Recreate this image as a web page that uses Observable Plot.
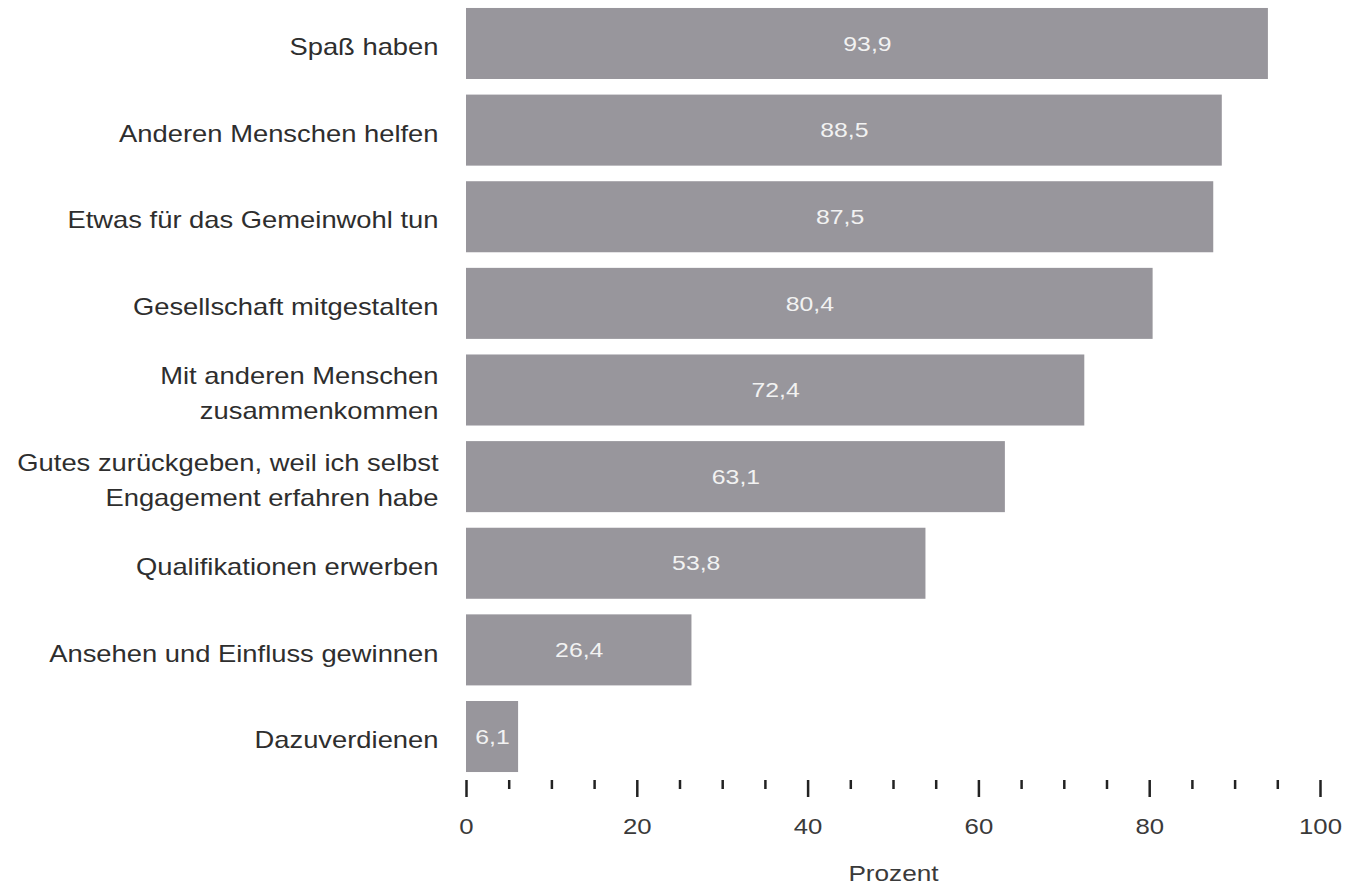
<!DOCTYPE html>
<html>
<head>
<meta charset="utf-8">
<script src="https://cdn.jsdelivr.net/npm/d3@7"></script>
<script src="https://cdn.jsdelivr.net/npm/@observablehq/plot@0.6"></script>
<style>
  html, body { margin: 0; padding: 0; background: #fff; }
  svg { display: block; }
  svg, svg text { font-family: "Liberation Sans", Arial, sans-serif !important; }
</style>
</head>
<body>
<div id="chart"></div>
<script>
const categories = [
  "Spaß haben",
  "Anderen Menschen helfen",
  "Etwas für das Gemeinwohl tun",
  "Gesellschaft mitgestalten",
  "Mit anderen Menschen\nzusammenkommen",
  "Gutes zurückgeben, weil ich selbst\nEngagement erfahren habe",
  "Qualifikationen erwerben",
  "Ansehen und Einfluss gewinnen",
  "Dazuverdienen"
];
const values = [93.9, 88.5, 87.5, 80.4, 72.4, 63.1, 53.8, 26.4, 6.1];
const majorTicks = [0, 20, 40, 60, 80, 100];
const minorTicks = [5, 10, 15, 25, 30, 35, 45, 50, 55, 65, 70, 75, 85, 90, 95];
const xLabel = "Prozent";

const data = categories.map((c, i) => ({category: c, value: values[i]}));
const fmt = v => v.toFixed(1).replace(".", ",");

const chart = Plot.plot({
  width: 1348,
  height: 890,
  marginLeft: 466,
  marginRight: 28,
  marginTop: 0,
  marginBottom: 110,
  style: {background: "#fff"},
  x: {domain: [0, 100]},
  y: {domain: categories, paddingInner: 0.18, paddingOuter: 0.092, round: false},
  marks: [
    Plot.barX(data, {x: "value", y: "category", fill: "#98969c"}),
    Plot.text(data, {x: d => d.value / 2, y: "category", text: d => fmt(d.value), fill: "#f2f2f2", fontSize: 21}),
    Plot.axisY({tickSize: 0, tickPadding: 28, fontSize: 23, lineHeight: 1.52, fill: "#2e2e2e", label: null}),
    Plot.axisX({ticks: majorTicks, tickSize: 17, tickPadding: 21, strokeWidth: 2.5, stroke: "#222", fontSize: 22, fill: "#3a3a3a", tickFormat: d => String(d), label: xLabel, labelAnchor: "center", labelArrow: "none", labelOffset: 100}),
    Plot.axisX({ticks: minorTicks, tickSize: 9, strokeWidth: 2.5, stroke: "#222", tickFormat: () => "", label: null})
  ]
});

// the reference's lettering is horizontally wider than Arial: stretch glyphs around their anchor
function stretch(selector, s) {
  chart.querySelectorAll(selector).forEach(t => {
    const tr = t.getAttribute("transform");
    if (tr) {
      t.setAttribute("transform", tr + ` scale(${s},1)`);
    } else {
      const x = +(t.getAttribute("x") || 0), y = +(t.getAttribute("y") || 0);
      t.setAttribute("x", 0); t.setAttribute("y", 0);
      t.setAttribute("transform", `translate(${x},${y}) scale(${s},1)`);
    }
  });
}
chart.querySelectorAll('[aria-label="x-axis label"] text').forEach(t => { t.setAttribute("font-size", 22); t.setAttribute("fill", "#3a3a3a"); });
stretch('[aria-label="x-axis label"] text', 1.19);
stretch('[aria-label="y-axis tick label"] text', 1.19);
stretch('[aria-label="x-axis tick label"] text', 1.17);
stretch('[aria-label="text"] text', 1.18);
document.getElementById("chart").appendChild(chart);
</script>
</body>
</html>
